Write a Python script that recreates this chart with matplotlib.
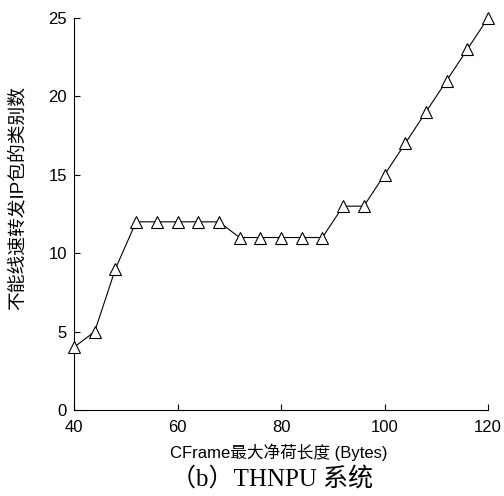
import matplotlib
matplotlib.use("Agg")
import matplotlib.pyplot as plt

x = [40, 44, 48, 52, 56, 60, 64, 68, 72, 76, 80, 84, 88, 92, 96, 100, 104, 108, 112, 116, 120]
y = [4, 5, 9, 12, 12, 12, 12, 12, 11, 11, 11, 11, 11, 13, 13, 15, 17, 19, 21, 23, 25]
xticks = [40, 60, 80, 100, 120]
yticks = [0, 5, 10, 15, 20, 25]

fam = ['Liberation Sans', 'Noto Sans CJK SC']
plt.rcParams['font.family'] = fam

fig = plt.figure(figsize=(5.04, 4.96), dpi=100)
ax = fig.add_axes([74/504, 1-410/496, (488-74)/504, (410-18)/496])
ax.plot(x, y, color='black', lw=0.8, marker='^', markersize=8,
        markerfacecolor='white', markeredgecolor='black', markeredgewidth=0.8, clip_on=False, zorder=3)
ax.set_xlim(40, 120)
ax.set_ylim(0, 25)
ax.set_xticks(xticks)
ax.set_yticks(yticks)
for s in ['top', 'right']:
    ax.spines[s].set_visible(False)
for s in ['left', 'bottom']:
    ax.spines[s].set_linewidth(0.8)
ax.tick_params(direction='in', length=4, width=0.8, labelsize=12)
ax.tick_params(axis='x', pad=7)
ax.tick_params(axis='y', pad=5)
ax.set_xlabel('CFrame最大净荷长度 (Bytes)', fontsize=12, family=fam)
ax.set_ylabel('不能线速转发IP包的类别数', fontsize=13.5, family=fam)
ax.xaxis.set_label_coords(0.5 - 0.005, (410-444)/392)
ax.yaxis.set_label_coords((27-74)/414, (410-198)/392)
fig.text(272/504, 1-479/496, '（b）THNPU 系统', ha='center', va='center',
         fontsize=18, family=['Liberation Serif', 'Noto Sans CJK SC'])
fig.savefig('out.png', dpi=100)
